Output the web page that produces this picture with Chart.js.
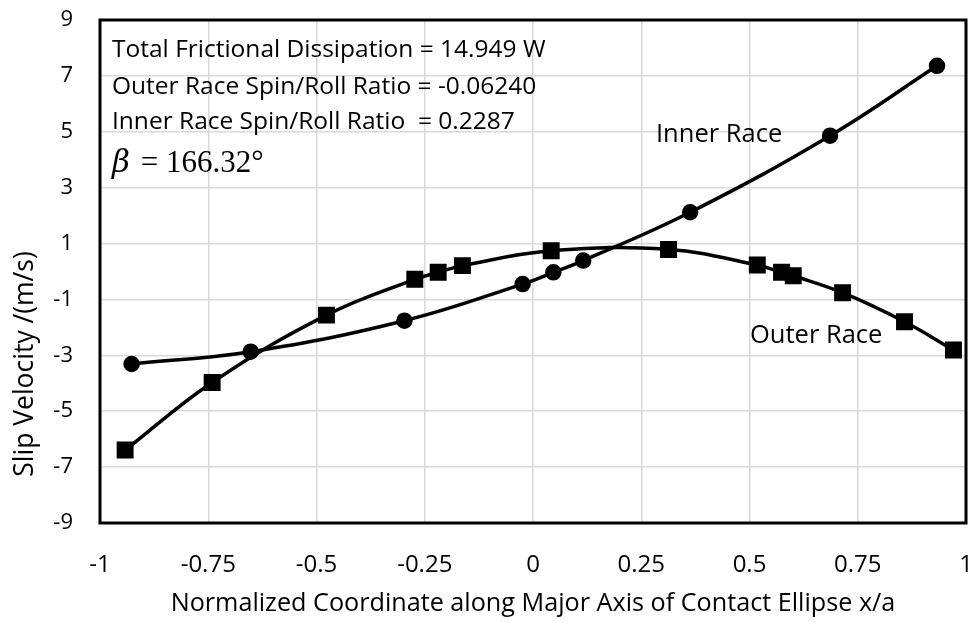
<!DOCTYPE html>
<html><head><meta charset="utf-8">
<script src="https://cdn.jsdelivr.net/npm/chart.js@4"></script>
<style>html,body{margin:0;padding:0;background:#fff}#wrap{width:970px;height:622px;position:relative}</style>
</head><body><div id="wrap"><canvas id="c" width="970" height="622"></canvas></div>
<script>
const innerX = [-0.927, -0.652, -0.297, -0.024, 0.047, 0.116, 0.363, 0.686, 0.933];
const innerY = [-3.31, -2.87, -1.76, -0.45, -0.03, 0.39, 2.12, 4.86, 7.36];
const outerX = [-0.942, -0.741, -0.477, -0.273, -0.219, -0.163, 0.042, 0.313, 0.518, 0.574, 0.601, 0.715, 0.858, 0.971];
const outerY = [-6.39, -3.97, -1.56, -0.28, -0.03, 0.21, 0.74, 0.79, 0.23, -0.03, -0.15, -0.76, -1.80, -2.81];
const xTicks = [-1, -0.75, -0.5, -0.25, 0, 0.25, 0.5, 0.75, 1];
const xTickLabels = ['-1', '-0.75', '-0.5', '-0.25', '0', '0.25', '0.5', '0.75', '1'];
const yTicks = [-9, -7, -5, -3, -1, 1, 3, 5, 7, 9];
const yTickLabels = ['-9', '-7', '-5', '-3', '-1', '1', '3', '5', '7', '9'];
const seriesNames = ['Inner Race', 'Outer Race'];
const infoLines = ['Total Frictional Dissipation = 14.949 W', 'Outer Race Spin/Roll Ratio = -0.06240', 'Inner Race Spin/Roll Ratio  = 0.2287'];
const betaLabel = ['\u03B2', ' = 166.32\u00B0'];
const xTitle = 'Normalized Coordinate along Major Axis of Contact Ellipse x/a';
const yTitle = 'Slip Velocity /(m/s)';

const FONT = '"Open Sans", Lato, sans-serif';

const toPts = (xs, ys) => xs.map((x, i) => ({x: x, y: ys[i]}));

const decor = {
  id: 'decor',
  afterDatasetsDraw(chart) {
    const ctx = chart.ctx, a = chart.chartArea;
    ctx.save();
    ctx.strokeStyle = '#000';
    ctx.lineWidth = 3;
    ctx.strokeRect(a.left, a.top, a.right - a.left, a.bottom - a.top);
    ctx.fillStyle = '#000';
    ctx.textBaseline = 'alphabetic';
    ctx.textAlign = 'left';
    ctx.font = '24.5px ' + FONT;
    const bl = [57, 94, 129];
    infoLines.forEach((t, i) => ctx.fillText(t, 112, bl[i]));
    ctx.font = 'italic 31px "DejaVu Serif", "Liberation Serif", serif';
    ctx.fillText(betaLabel[0], 112, 172);
    const w = ctx.measureText(betaLabel[0]).width;
    ctx.font = '31px "Liberation Serif", serif';
    ctx.fillText(betaLabel[1], 112 + w + 3, 172);
    ctx.font = '25.5px ' + FONT;
    ctx.fillText(seriesNames[0], 656, 142);
    ctx.fillText(seriesNames[1], 750, 343);
    // y-axis title (placed as in the reference, below centre)
    ctx.translate(33, 364);
    ctx.rotate(-Math.PI / 2);
    ctx.textAlign = 'center';
    ctx.font = '26.5px ' + FONT;
    ctx.fillText(yTitle, 0, 0);
    ctx.restore();
  }
};

new Chart(document.getElementById('c'), {
  type: 'scatter',
  data: {
    datasets: [
      {label: seriesNames[0], data: toPts(innerX, innerY), showLine: true, tension: 0.4,
       borderColor: '#000', backgroundColor: '#000', borderWidth: 3.5,
       pointStyle: 'circle', pointRadius: 6.5, pointHoverRadius: 6.5},
      {label: seriesNames[1], data: toPts(outerX, outerY), showLine: true, tension: 0.4,
       borderColor: '#000', backgroundColor: '#000', borderWidth: 3.5,
       pointStyle: 'rect', pointRadius: 9.5, pointHoverRadius: 9.5}
    ]
  },
  options: {
    responsive: false,
    animation: false,
    events: [],
    layout: {autoPadding: false, padding: {top: 20, right: 4, left: 0, bottom: 0}},
    plugins: {legend: {display: false}, tooltip: {enabled: false}},
    scales: {
      x: {
        type: 'linear', min: -1, max: 1,
        afterBuildTicks: s => { s.ticks = xTicks.map(v => ({value: v})); },
        afterFit: s => { s.height = 99; s.paddingLeft = 0; s.paddingRight = 0; },
        ticks: {color: '#000', font: {family: FONT, size: 24}, padding: 28, maxRotation: 0, autoSkip: false,
                callback: (v) => { const i = xTicks.indexOf(v); return i >= 0 ? xTickLabels[i] : ''; }},
        grid: {color: '#d9d9d9', lineWidth: 1.5, drawTicks: false},
        border: {display: false},
        title: {display: true, text: xTitle, color: '#000', font: {family: FONT, size: 25.2}, padding: {top: 4, bottom: 3}}
      },
      y: {
        type: 'linear', min: -9, max: 9,
        afterBuildTicks: s => { s.ticks = yTicks.map(v => ({value: v})); },
        afterFit: s => { s.width = 100; s.paddingTop = 0; s.paddingBottom = 0; },
        ticks: {color: '#000', font: {family: FONT, size: 22}, padding: 27, autoSkip: false,
                callback: (v) => { const i = yTicks.indexOf(v); return i >= 0 ? yTickLabels[i] : ''; }},
        grid: {
          color: c => (c.tick && c.tick.value === 0) ? '#000' : '#d9d9d9',
          lineWidth: 1.5, drawTicks: false
        },
        border: {display: false},
        title: {display: false}
      }
    }
  },
  plugins: [decor]
});
</script>
</body></html>
